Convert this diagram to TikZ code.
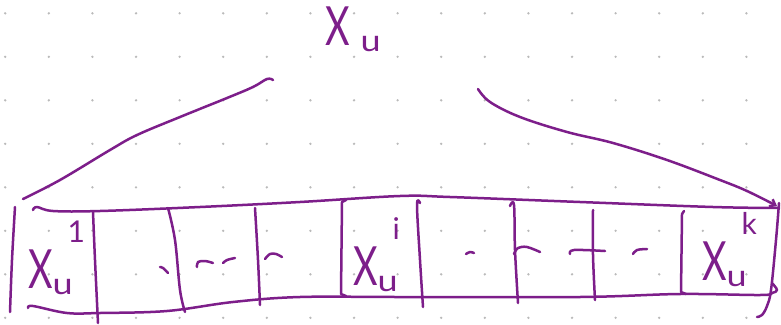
\documentclass[tikz,border=0pt]{standalone}
\usepackage{fontspec}
\usepackage{graphicx}
\usetikzlibrary{arrows.meta}
\newfontfamily\hand{Lato}
\definecolor{ink}{RGB}{125,30,138}
\colorlet{dotcol}{black!27}
\tikzset{every node/.style={text=ink, inner sep=0pt, anchor=base west}}
\tikzset{pen/.style={ink, line width=2.5pt, line cap=round, line join=round}}
\newcommand{\handlabel}[2][0pt]{\hand\fontsize{54}{54}\selectfont
  \scalebox{0.7}[1]{X}\rlap{\hspace{#1}\raisebox{-6pt}{\fontsize{30}{30}\selectfont\scalebox{1.2}[1]{u}}}%
  \hspace{15pt}\raisebox{46pt}{\fontsize{30}{30}\selectfont #2}}

\begin{document}
\begin{tikzpicture}[x=1pt, y=-1pt, >=Stealth]

\fill[white] (0,0) rectangle (781,324);
\useasboundingbox (0,0) rectangle (781,324);

% dotted paper
\foreach \i in {0,...,17}
  \foreach \j in {0,...,7}
    \fill[dotcol] (5.2+43.6*\i, 13.3+43.5*\j) circle (1.3pt);

% Label of the whole vector
\node (xu) at (325,45) {\handlabel[11pt]{}};

% Brace over the vector
\coordinate (lstart) at (23,199);
\coordinate (rstart) at (478,89);
\coordinate (rend) at (777,206);
\draw[pen] plot[smooth, tension=0.6] coordinates {(lstart) (60,180) (110,150) (137,135)
  (180,117) (227,98) (253,87) (267,79) (273,80)};
\draw[pen, -{Straight Barb[length=5pt, width=8pt]}] plot[smooth, tension=0.6] coordinates {(rstart)
  (490,102) (520,117) (567,132) (613,143) (667,160) (720,180) (747,191) (rend)};

% Outline of the cells
\draw[pen] plot[smooth, tension=0.6] coordinates {(33,210) (37,207) (53,211) (100,211)
  (200,207) (300,202) (400,196) (450,197) (580,202) (713,207) (779,208)};
\draw[pen] plot[smooth, tension=0.6] coordinates {(28,308) (33,306) (67,313) (100,313)
  (167,311) (233,302) (300,297) (400,297) (580,297) (680,294) (760,295) (772,293)
  (777,290) (772,283)};
\draw[pen] plot[smooth, tension=0.6] coordinates {(15,207) (12,260) (10,312)};
\draw[pen] plot[smooth, tension=0.6] coordinates {(779,203) (776,240) (771,290)
  (767,306) (762,315) (757,317)};

% Cell walls
\draw[pen] plot[smooth, tension=0.6] coordinates {(93,212) (95,260) (98,323)};
\draw[pen] plot[smooth, tension=0.6] coordinates {(168,208) (175,240) (180,290) (185,312)};
\draw[pen] plot[smooth, tension=0.6] coordinates {(255,208) (258,260) (260,305)};
\draw[pen] (346,200) -- (342,202) -- (341,294) -- (346,296);
\draw[pen] plot[smooth, tension=0.6] coordinates {(420,203) (417,205) (420,260) (423,307)};
\draw[pen] plot[smooth, tension=0.6] coordinates {(510,206) (514,205) (515,250) (518,303)};
\draw[pen] plot[smooth, tension=0.6] coordinates {(593,210) (593,255) (595,300)};
\draw[pen] (684,211) -- (682,214) -- (681,292) -- (686,294);

% Dashes standing for the skipped cells
\draw[pen] plot[smooth, tension=0.6] coordinates {(160,267) (163,268) (168,273)};
\draw[pen] plot[smooth, tension=0.6] coordinates {(197,267) (198,262) (205,261) (213,263)};
\draw[pen] plot[smooth, tension=0.6] coordinates {(223,263) (227,260) (235,258)};
\draw[pen] plot[smooth, tension=0.6] coordinates {(265,259) (270,254) (276,254) (282,257)};
\draw[pen] plot[smooth, tension=0.6] coordinates {(466,254) (470,252) (474,253)};
\draw[pen] plot[smooth, tension=0.6] coordinates {(514,254) (518,248) (527,247) (540,252)};
\draw[pen] plot[smooth, tension=0.6] coordinates {(570,254) (574,250) (605,251)};
\draw[pen] plot[smooth, tension=0.6] coordinates {(633,254) (637,250) (647,249)};

% Cell labels
\node (x1) at (28,288) {\handlabel{1}};
\node (xi) at (353,285) {\handlabel{i}};
\node (xk) at (702,280) {\handlabel{k}};

\end{tikzpicture}
\end{document}
